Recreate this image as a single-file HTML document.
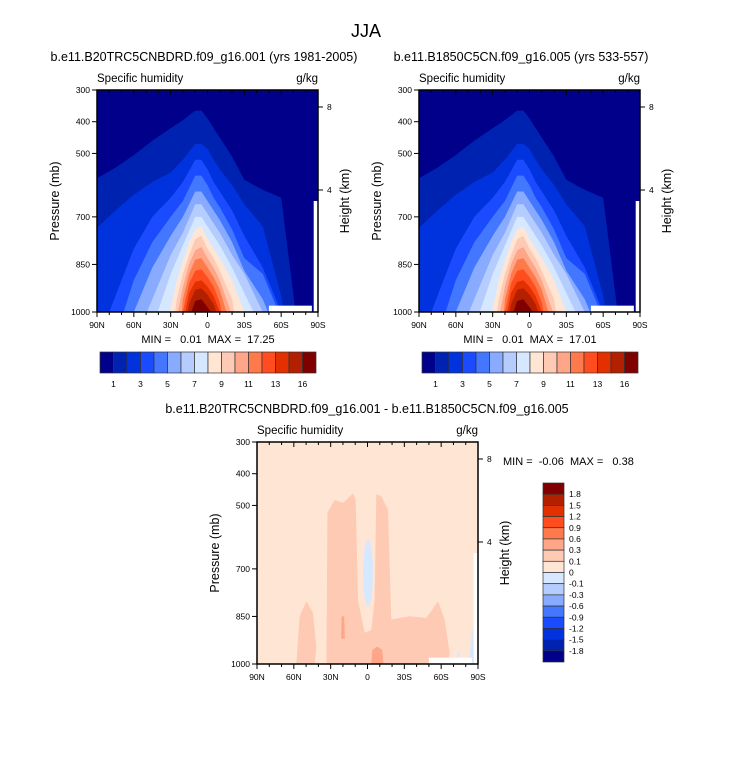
<!DOCTYPE html>
<html><head><meta charset="utf-8"><style>
body{margin:0;background:#fff}
svg text{font-family:"Liberation Sans",sans-serif;fill:#000;white-space:pre}
</style></head><body>
<svg id="fig" width="733" height="758" viewBox="0 0 733 758" xmlns="http://www.w3.org/2000/svg">
<text x="366" y="37" font-size="18" text-anchor="middle">JJA</text>
</svg>
<script>
const lats=[90,75,60,45,30,25,20,15,10,5,0,-5,-10,-20,-30,-45,-60,-75,-90];
const X=1200;
const contourTops=[
[578,545,505,460,420,408,395,380,365,365,390,420,450,510,583,615,640,1100,1100],
[735,680,630,590,560,540,520,495,470,470,485,520,550,600,660,730,950,1300,1300],
[1100,950,800,700,640,615,590,555,520,520,550,590,620,680,760,860,1000,X,X],
[X,1080,900,780,700,675,650,610,570,570,600,640,670,740,830,880,1020,X,X],
[X,X,1000,860,760,730,700,660,620,620,650,680,710,780,870,960,1100,X,X],
[X,X,1100,960,820,785,750,705,660,660,690,720,750,820,880,1000,X,X,X],
[X,X,X,1050,880,835,790,745,700,700,730,760,790,860,940,1060,X,X,X],
[X,X,X,X,990,900,840,780,740,730,770,800,830,900,1000,X,X,X,X],
[X,X,X,X,1100,960,880,820,770,760,800,830,870,960,X,X,X,X,X],
[X,X,X,X,X,1020,920,850,805,795,830,860,900,1010,X,X,X,X,X],
[X,X,X,X,X,X,960,880,835,830,860,890,930,1060,X,X,X,X,X],
[X,X,X,X,X,X,1000,910,870,865,890,920,970,X,X,X,X,X,X],
[X,X,X,X,X,X,1040,940,905,900,920,950,1000,X,X,X,X,X,X],
[X,X,X,X,X,X,1080,975,930,925,945,975,1030,X,X,X,X,X,X],
[X,X,X,X,X,X,X,1020,965,960,985,1010,X,X,X,X,X,X,X]];
const colors=["#00008a","#0022b0","#0033dd","#1a4bff","#4477ff","#88aaff","#b5ccff","#d6e8ff","#ffe6d4","#ffcab4","#ffa588","#ff7a4a","#ff4d1f","#e23000","#b32000","#800000"];
const topBarLabels=["1","3","5","7","9","11","13","16"];
const topBarLabelIdx=[1,3,5,7,9,11,13,15];
const diffBarLabels=["1.8","1.5","1.2","0.9","0.6","0.3","0.1","0","-0.1","-0.3","-0.6","-0.9","-1.2","-1.5","-1.8"];
const diffPeachBig=[[33.5,1000],[32.7,523],[26.7,483],[20,492],[11.8,462],[9.6,481],[7.7,797],[2.3,902],[-3.1,892],[-5.8,797],[-7.2,465],[-11.3,471],[-16.7,513],[-19.4,860],[-34.3,849],[-47.9,855],[-57.4,802],[-62.9,860],[-66.9,965],[-65.6,1000]];
const diffPeachLeft=[[58,1000],[55.3,849],[49.8,802],[44.4,839],[41.7,944],[43,1000]];
const diffSalmon1=[[21,850],[19,850],[18.5,920],[21.5,920]];
const diffSalmon2=[[-3,1000],[-4,955],[-8,945],[-12,955],[-13,1000]];
const diffBlue1=[[-72,1000],[-74,955],[-76,1000]];
const diffBlue2=[[-82,1000],[-86,880],[-87,1000]];
const diffBlueEllipse=[-0.4,713,4,105];
const maskBottom=[[-50,980],[-85,1000]];
const maskRight=[[-86.5,650],[-90,1000]];

const svg=document.getElementById('fig');
const NS="http://www.w3.org/2000/svg";
function mk(tag,attrs,parent){const e=document.createElementNS(NS,tag);for(const k in attrs)e.setAttribute(k,attrs[k]);(parent||svg).appendChild(e);return e;}
function txt(x,y,s,size,anchor,parent){const t=mk('text',{x:x,y:y,'font-size':size,'text-anchor':anchor||'start'},parent);t.textContent=s;return t;}
let clipId=0;
function panel(x0,y0,W,H,title,titleX,field,name){
  const g=mk('g',{});
  
  
  const xOf=lat=>x0+(90-lat)/180*W, yOf=p=>y0+(p-300)/700*H;
  clipId++;
  const cp=mk('clipPath',{id:'c'+clipId},g);mk('rect',{x:x0,y:y0,width:W,height:H},cp);
  const pg=mk('g',{'clip-path':'url(#c'+clipId+')'},g);
  if(field==='q'){
    mk('rect',{x:x0,y:y0,width:W,height:H,fill:colors[0]},pg);
    contourTops.forEach((row,k)=>{
      let d='M'+xOf(lats[0])+','+yOf(1300);
      row.forEach((p,i)=>{d+=' L'+xOf(lats[i]).toFixed(1)+','+yOf(p).toFixed(1);});
      d+=' L'+xOf(lats[lats.length-1])+','+yOf(1300)+' Z';
      const e=mk('path',{d:d,fill:colors[k+1]},pg);
      
      
    });
  } else {
    mk('rect',{x:x0,y:y0,width:W,height:H,fill:colors[8]},pg);
    const poly=(pts,c,n)=>{const e=mk('polygon',{points:pts.map(q=>xOf(q[0]).toFixed(1)+','+yOf(q[1]).toFixed(1)).join(' '),fill:c},pg);
      };
    poly(diffPeachBig,colors[9],'diff-region-tropics');
    poly(diffPeachLeft,colors[9],'diff-region-midlat');
    poly(diffSalmon1,colors[10],'diff-region-high1');
    poly(diffSalmon2,colors[10],'diff-region-high2');
    poly(diffBlue1,colors[7],'diff-region-neg1');
    poly(diffBlue2,colors[7],'diff-region-neg2');
    const el=diffBlueEllipse;
    const e=mk('ellipse',{cx:xOf(el[0]),cy:yOf(el[1]),rx:el[2]/180*W,ry:el[3]/700*H,fill:colors[7]},pg);
    
  }
  mk('rect',{x:xOf(maskBottom[0][0]),y:yOf(maskBottom[0][1]),width:xOf(maskBottom[1][0])-xOf(maskBottom[0][0]),height:yOf(maskBottom[1][1])-yOf(maskBottom[0][1]),fill:'#fff'},pg);
  mk('rect',{x:xOf(maskRight[0][0]),y:yOf(maskRight[0][1]),width:xOf(maskRight[1][0])-xOf(maskRight[0][0]),height:yOf(maskRight[1][1])-yOf(maskRight[0][1]),fill:'#fff'},pg);
  mk('rect',{x:x0,y:y0,width:W,height:H,fill:'none',stroke:'#000','stroke-width':1.5},g);
  for(let lat=90;lat>=-90;lat-=10){const x=xOf(lat),maj=lat%30===0;
    mk('line',{x1:x,y1:y0+H,x2:x,y2:y0+H+(maj?5:3),stroke:'#000'},g);
    mk('line',{x1:x,y1:y0,x2:x,y2:y0+(maj?5:3),stroke:'#000'},g);
    if(maj){const s=lat>0?lat+'N':lat<0?(-lat)+'S':'0';const t=txt(x,y0+H+16,s,8.5,'middle',g);
      }}
  [300,400,500,700,850,1000].forEach(p=>{const y=yOf(p);mk('line',{x1:x0-5,y1:y,x2:x0,y2:y,stroke:'#000'},g);
    const t=txt(x0-7,y+3,String(p),8.5,'end',g);});
  [[8,17],[4,100]].forEach(h=>{const y=y0+h[1];mk('line',{x1:x0+W,y1:y,x2:x0+W+5,y2:y,stroke:'#000'},g);
    const t=txt(x0+W+9,y+3,String(h[0]),8.5,'start',g);});
  const a=txt(x0,y0-8,'Specific humidity',11.5,'start',g);
  const b=txt(x0+W,y0-8,'g/kg',11.5,'end',g);
  const c=txt(titleX,y0-29,title,12.5,'middle',g);
  const yl=txt(0,0,'Pressure (mb)',12.5,'middle',g);yl.setAttribute('transform','translate('+(x0-38)+','+(y0+H/2)+') rotate(-90)');
  
  const hl=txt(0,0,'Height (km)',12.5,'middle',g);hl.setAttribute('transform','translate('+(x0+W+31)+','+(y0+H/2)+') rotate(-90)');
  
}
function hbar(x0,y0,name){const g=mk('g',{});
  const bw=216/16;colors.forEach((c,i)=>mk('rect',{x:x0+i*bw,y:y0,width:bw,height:21,fill:c,stroke:'#333','stroke-width':0.7},g));
  topBarLabels.forEach((s,i)=>{const t=txt(x0+topBarLabelIdx[i]*bw,y0+35,s,8.5,'middle',g);});}
panel(97,90,221,222,'b.e11.B20TRC5CNBDRD.f09_g16.001 (yrs 1981-2005)',204,'q','panel-left');
panel(419,90,221,222,'b.e11.B1850C5CN.f09_g16.005 (yrs 533-557)',521,'q','panel-right');
panel(257,442,221,222,'b.e11.B20TRC5CNBDRD.f09_g16.001 - b.e11.B1850C5CN.f09_g16.005',367,'d','panel-difference');
const m1=txt(208,343,'MIN =   0.01  MAX =  17.25',11,'middle');
const m2=txt(530,343,'MIN =   0.01  MAX =  17.01',11,'middle');
const m3=txt(503,465,'MIN =  -0.06  MAX =   0.38',11,'start');
hbar(100,352,'colorbar-left');hbar(422,352,'colorbar-right');
(function(){const g=mk('g',{});
  const bh=179/16;for(let i=0;i<16;i++)mk('rect',{x:543,y:483+i*bh,width:21,height:bh,fill:colors[15-i],stroke:'#333','stroke-width':0.7},g);
  diffBarLabels.forEach((s,i)=>{const t=txt(569,483+(i+1)*bh+3,s,8.5,'start',g);});})();
</script>
</body></html>
